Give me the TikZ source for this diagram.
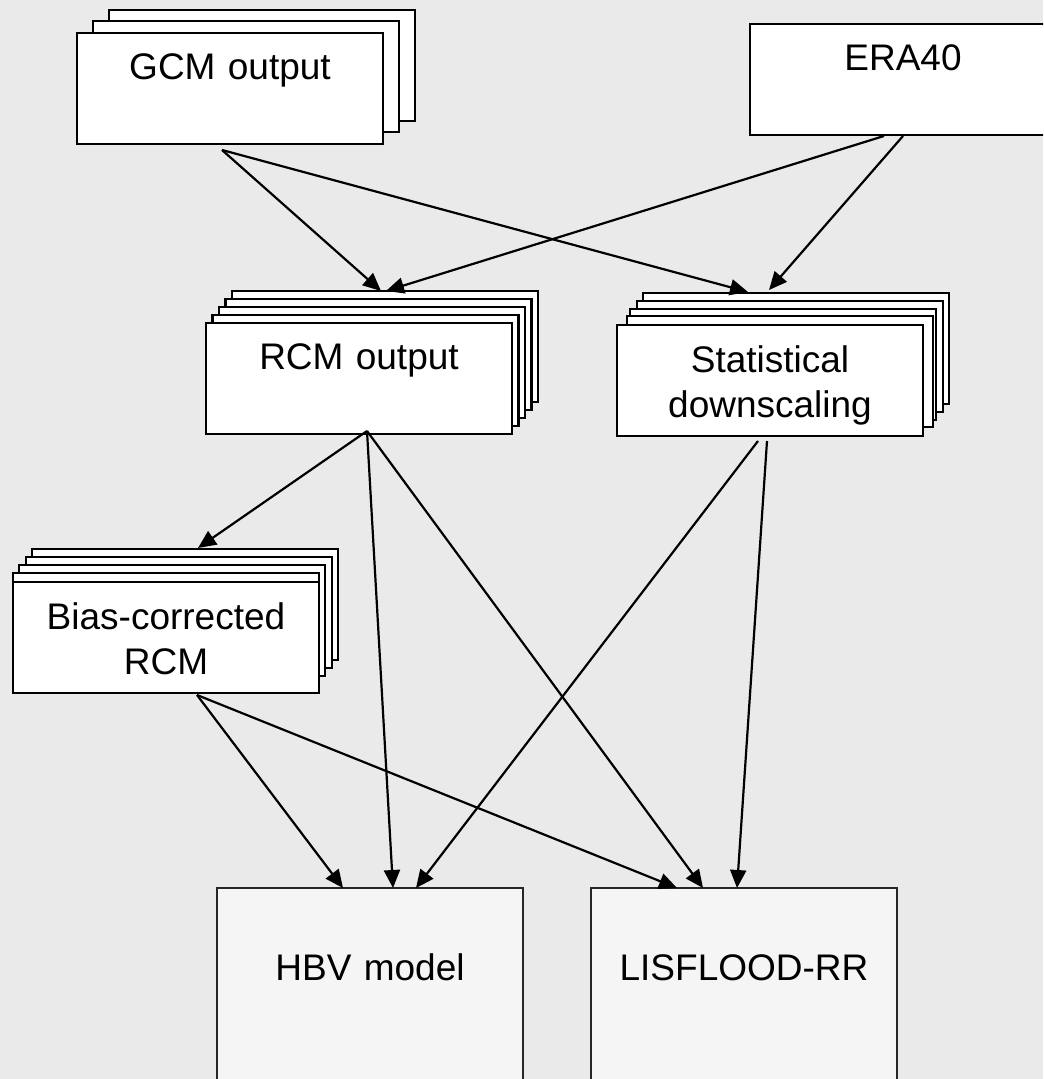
\documentclass[tikz,border=0pt]{standalone}
\usepackage{fontspec}
\setmainfont{Liberation Sans}
\usetikzlibrary{arrows.meta,calc}
\definecolor{fondgris}{HTML}{EAEAEA}
\definecolor{modfill}{HTML}{F5F5F5}
\tikzset{
  sheet/.style={draw=black, line width=1.2pt, fill=white},
  stackbox/.style={sheet, rectangle, anchor=north west, inner sep=0pt, outer sep=0pt,
                   minimum width=153pt, text width=150pt, align=center,
                   text height=23.5pt, text depth=32pt, font=\fontsize{18.5}{22.5}\selectfont},
  modelbox/.style={rectangle, draw=black!85, line width=1pt, fill=modfill, anchor=north west,
                   inner sep=0pt, outer sep=0pt, minimum width=153pt, text width=150pt, align=center,
                   text height=46pt, text depth=69pt, font=\fontsize{18.5}{22.5}\selectfont},
  arr/.style={-{Triangle[length=9pt,width=8pt]}, line width=1.1pt},
}

\begin{document}
\begin{tikzpicture}[x=0.5pt, y=-0.5pt]
    \useasboundingbox (0,0) rectangle (1043,1079);
    \clip (0,0) rectangle (1043,1079);
    \fill[fondgris] (0,0) rectangle (1043,1079);

    % stacked sheets behind the boxes
    \foreach \dx/\dy in {32/23,16/12}
      \draw[sheet] (77+\dx,33-\dy) rectangle ++(306,111);
    \foreach \dx/\dy in {26/32,19.5/24,13/16,6.5/8}
      \draw[sheet] (206+\dx,323-\dy) rectangle ++(306,111);
    \foreach \dx/\dy in {26/32,20/24,13/16,10/9}
      \draw[sheet] (617+\dx,325-\dy) rectangle ++(306,111);
    \foreach \dx/\dy in {19/33,13/25,6/17,0/9}
      \draw[sheet] (13+\dx,582-\dy) rectangle ++(306,111);

    % boxes
    \node[stackbox] (gcm) at (77,33) {GCM output};
    \node[stackbox] (era) at (750,24) {ERA40};
    \node[stackbox] (rcm) at (206,323) {RCM output};
    \node[stackbox] (stat) at (617,325) {Statistical\\downscaling};
    \node[stackbox] (bias) at (13,582) {Bias-corrected\\RCM};
    \node[modelbox] (hbv) at (217,888) {HBV model};
    \node[modelbox] (lis) at (591,888) {LISFLOOD-RR};

    % arrows
    \draw[arr] ($(gcm.south west)+(145,6)$) -- ($(rcm.north west)+(175,-32)$);
    \draw[arr] ($(gcm.south west)+(145,6)$) -- ($(stat.north west)+(131,-33)$);
    \draw[arr] ($(era.south west)+(134,1)$) -- ($(rcm.north west)+(180,-32)$);
    \draw[arr] ($(era.south west)+(153,1)$) -- ($(stat.north west)+(152,-35)$);
    \draw[arr] ($(rcm.south west)+(161,-3)$) -- ($(bias.north west)+(185,-34)$);
    \draw[arr] ($(rcm.south west)+(161,-3)$) -- ($(hbv.north west)+(176,0)$);
    \draw[arr] ($(rcm.south west)+(161,-3)$) -- ($(lis.north west)+(112,0)$);
    \draw[arr] ($(stat.south west)+(141,5)$) -- ($(hbv.north west)+(199,0)$);
    \draw[arr] ($(stat.south west)+(150,5)$) -- ($(lis.north west)+(146,0)$);
    \draw[arr] ($(bias.south west)+(184,2)$) -- ($(hbv.north west)+(126,0)$);
    \draw[arr] ($(bias.south west)+(184,2)$) -- ($(lis.north west)+(86,0)$);
\end{tikzpicture}
\end{document}
